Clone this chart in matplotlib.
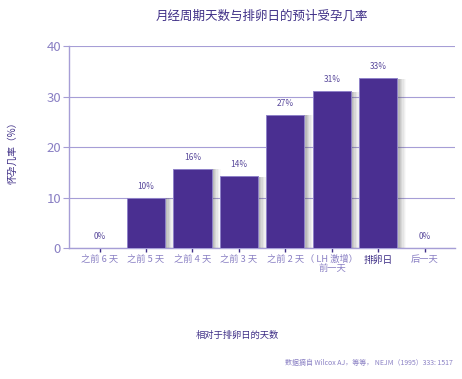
import matplotlib
matplotlib.use("Agg")
import matplotlib.pyplot as plt
import matplotlib.patheffects as pe

plt.rcParams['font.family'] = ['Noto Sans CJK SC', 'DejaVu Sans']

categories = ["之前 6 天", "之前 5 天", "之前 4 天", "之前 3 天", "之前 2 天",
              "（ LH 激增）\n前一天", "排卵日", "后一天"]
values = [0, 9.9, 15.7, 14.2, 26.4, 31.0, 33.6, 0]
value_labels = ["0%", "10%", "16%", "14%", "27%", "31%", "33%", "0%"]
yticks = [0, 10, 20, 30, 40]

title = "月经周期天数与排卵日的预计受孕几率"
ylabel = "怀孕几率（%）"
xlabel = "相对于排卵日的天数"
source = "数据摘自 Wilcox AJ，等等， NEJM（1995）333: 1517"

bar_color = "#4a2f91"
edge_color = "#8f82c9"
grid_color = "#a69ed6"
tick_color = "#8a80c4"
dark_text = "#3f2f87"

fig = plt.figure(figsize=(4.62, 3.79), dpi=100)
ax = fig.add_axes([0.150, 0.3456, 0.835, 0.533])

x = list(range(len(categories)))
bars = ax.bar(x, values, width=0.82, color=bar_color, edgecolor=edge_color,
              linewidth=0.7, zorder=3)
shadow = [pe.SimplePatchShadow(offset=(o, -0.3), shadow_rgbFace="#555555", alpha=a)
          for o, a in [(0.5, 0.12), (1.5, 0.12), (2.5, 0.11), (3.5, 0.09),
                       (4.5, 0.07), (5.5, 0.05), (6.5, 0.03)]]
for b, v in zip(bars, values):
    if v > 0:
        b.set_path_effects(shadow + [pe.Normal()])

for xi, v, lab in zip(x, values, value_labels):
    ax.text(xi, v + 2.3, lab, ha="center", va="center", fontsize=6,
            color="#5a4a9c", zorder=4)

ax.set_xlim(-0.65, 7.65)
ax.set_ylim(0, 40)
ax.set_yticks(yticks)
ax.set_yticklabels([str(t) for t in yticks], fontsize=9.5, color=tick_color)
ax.yaxis.grid(True, color=grid_color, linewidth=0.8, zorder=0)
ax.set_axisbelow(True)
ax.tick_params(axis="y", length=4, color=grid_color, width=0.8, pad=2)

ax.set_xticks(x)
ax.set_xticklabels(categories, fontsize=6.7, color=tick_color, linespacing=1.0)
for i, lbl in enumerate(ax.get_xticklabels()):
    if categories[i] == "排卵日":
        lbl.set_color(dark_text)
        lbl.set_fontweight("medium")
        lbl.set_fontsize(7)
ax.tick_params(axis="x", length=3, color=dark_text, width=1, pad=2)

for s in ["top", "right"]:
    ax.spines[s].set_visible(False)
ax.spines["left"].set_color(grid_color)
ax.spines["bottom"].set_color(grid_color)
ax.spines["left"].set_linewidth(1)
ax.spines["bottom"].set_linewidth(1)

fig.text(262 / 462, 1 - 16 / 379, title, ha="center", va="center",
         fontsize=9, color=dark_text)
fig.text(12 / 462, 1 - 150 / 379, ylabel, ha="center", va="center",
         rotation=90, fontsize=7, color=dark_text)
fig.text(237 / 462, 1 - 335 / 379, xlabel, ha="center", va="center",
         fontsize=6.7, color=dark_text)
fig.text(453 / 462, 1 - 363 / 379, source, ha="right", va="center",
         fontsize=5, color=tick_color)

fig.savefig("out.png", dpi=100)
